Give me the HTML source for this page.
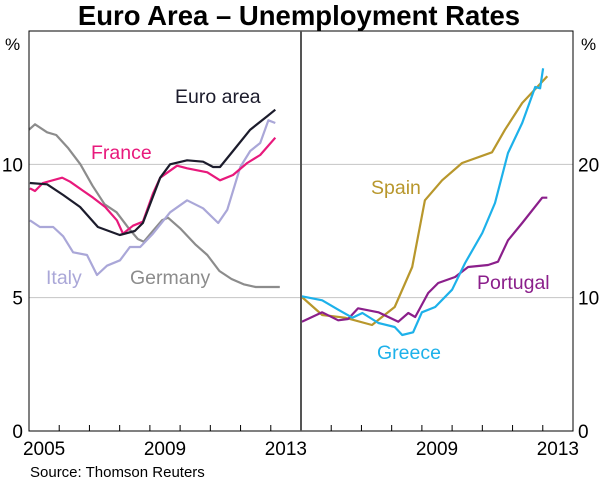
<!DOCTYPE html>
<html><head><meta charset="utf-8"><style>
body{margin:0;background:#fff;}
svg{display:block;font-family:"Liberation Sans",Arial,sans-serif;}
</style></head><body>
<svg id="c" width="600" height="481" viewBox="0 0 600 481">
<text x="299" y="25" text-anchor="middle" font-size="27.5" font-weight="bold" fill="#000">Euro Area – Unemployment Rates</text>
<g id="grid"></g>
<g id="lines"></g>
<g id="frame"></g>
<g id="labels"></g>
<text x="30" y="477" font-size="15" fill="#000">Source: Thomson Reuters</text>
</svg>
<script>
const leftTicks=[0,5,10];
const rightTicks=[0,10,20];
const yearLabels=[2005,2009,2013];
const germany=[[2005.0,11.3],[2005.2,11.5],[2005.6,11.2],[2005.9,11.1],[2006.3,10.6],[2006.7,10.0],[2007.1,9.2],[2007.5,8.5],[2007.9,8.2],[2008.3,7.6],[2008.6,7.2],[2008.8,7.1],[2009.1,7.5],[2009.4,7.9],[2009.6,8.0],[2010.0,7.6],[2010.5,7.0],[2010.9,6.6],[2011.3,6.0],[2011.7,5.7],[2012.1,5.5],[2012.5,5.4],[2013.0,5.4],[2013.3,5.4]];
const euroArea=[[2005.03,9.3],[2005.6,9.25],[2006.13,8.85],[2006.69,8.4],[2007.28,7.65],[2008.0,7.35],[2008.5,7.5],[2008.77,7.8],[2009.34,9.5],[2009.67,10.0],[2010.23,10.15],[2010.76,10.1],[2011.09,9.9],[2011.32,9.9],[2011.75,10.5],[2012.32,11.3],[2012.88,11.8],[2013.15,12.05]];
const france=[[2005.03,9.1],[2005.2,9.0],[2005.46,9.3],[2006.1,9.5],[2006.36,9.35],[2006.8,9.0],[2007.12,8.75],[2007.52,8.4],[2007.91,7.9],[2008.11,7.4],[2008.44,7.7],[2008.77,7.85],[2009.1,8.9],[2009.34,9.5],[2009.9,9.95],[2010.23,9.85],[2010.9,9.7],[2011.32,9.4],[2011.75,9.6],[2012.22,10.05],[2012.65,10.35],[2013.15,11.0]];
const italy=[[2005.03,7.9],[2005.36,7.65],[2005.8,7.65],[2006.13,7.3],[2006.46,6.7],[2006.92,6.6],[2007.25,5.85],[2007.58,6.2],[2008.01,6.4],[2008.34,6.9],[2008.68,6.9],[2009.1,7.4],[2009.67,8.2],[2010.23,8.65],[2010.76,8.35],[2011.26,7.8],[2011.56,8.3],[2011.99,9.9],[2012.32,10.5],[2012.65,10.8],[2012.92,11.65],[2013.15,11.55]];
const spain=[[2005.03,10.05],[2005.7,8.7],[2006.46,8.5],[2007.35,7.95],[2007.68,8.55],[2008.1,9.3],[2008.68,12.3],[2009.1,17.3],[2009.67,18.8],[2010.33,20.1],[2011.32,20.9],[2011.75,22.6],[2012.32,24.6],[2013.15,26.6]];
const greece=[[2005.03,10.1],[2005.7,9.8],[2006.23,9.1],[2006.7,8.5],[2007.03,8.85],[2007.56,8.1],[2008.1,7.8],[2008.35,7.2],[2008.71,7.4],[2009.0,8.9],[2009.44,9.3],[2010.0,10.6],[2010.43,12.6],[2011.0,14.85],[2011.42,17.1],[2011.85,20.85],[2012.32,23.1],[2012.75,25.8],[2012.91,25.7],[2013.01,27.2]];
const portugal=[[2005.03,8.2],[2005.7,8.9],[2006.23,8.3],[2006.56,8.4],[2006.89,9.2],[2007.56,8.9],[2008.22,8.2],[2008.55,8.85],[2008.78,8.55],[2009.21,10.35],[2009.54,11.1],[2010.1,11.55],[2010.53,12.3],[2011.19,12.45],[2011.52,12.7],[2011.85,14.3],[2012.32,15.6],[2012.98,17.5],[2013.15,17.5]];
const NS='http://www.w3.org/2000/svg';
const L0=29,DIV=301,R1=573,TOP=31,BOT=431;
const yw=(DIV-L0)/9;
function xL(y){return L0+(y-2005)*yw;}
function xR(y){return DIV+(y-2005)*yw;}
function yL(v){return BOT-(v/15)*(BOT-TOP);}
function yR(v){return BOT-(v/30)*(BOT-TOP);}
function mk(tag,attrs,parent){const e=document.createElementNS(NS,tag);for(const k in attrs)e.setAttribute(k,attrs[k]);parent.appendChild(e);return e;}
const g=document.getElementById('grid'),ln=document.getElementById('lines'),fr=document.getElementById('frame'),lb=document.getElementById('labels');
leftTicks.forEach(v=>{
  if(v>0){const l=mk('line',{x1:L0,x2:R1,y1:yL(v),y2:yL(v),stroke:'#c4c4c4','stroke-width':1},g);
  
  }
  const t=mk('text',{x:23,y:yL(v)+7,'text-anchor':'end','font-size':19,fill:'#000'},lb);t.textContent=v;
  
  
});
rightTicks.forEach(v=>{
  const t=mk('text',{x:578,y:yR(v)+7,'font-size':19,fill:'#000'},lb);t.textContent=v;
  
  
});
[['%',5],['%',581]].forEach(p=>{const t=mk('text',{x:p[1],y:50,'font-size':17,fill:'#000'},lb);t.textContent=p[0];
  
  });
yearLabels.forEach(y=>{
  [[xL,'left'],[xR,'right']].forEach(([f,side])=>{
    if(side==='right'&&y===2005)return;
    const t=mk('text',{x:f(y+0.5),y:455,'text-anchor':'middle','font-size':19,fill:'#000'},lb);t.textContent=y;
    
    
  });
});
for(let i=1;i<9;i++){[xL,xR].forEach(f=>{const l=mk('line',{x1:f(2005+i),x2:f(2005+i),y1:BOT,y2:BOT-6,stroke:'#000','stroke-width':1},fr);
  
  });}
const box=mk('rect',{x:L0,y:TOP,width:R1-L0,height:BOT-TOP,fill:'none',stroke:'#000','stroke-width':1},fr);


const dv=mk('line',{x1:DIV,x2:DIV,y1:TOP,y2:BOT,stroke:'#555','stroke-width':2},fr);


function series(data,fx,fy,color,name){
  const p=mk('polyline',{points:data.map(d=>fx(d[0]).toFixed(1)+','+fy(d[1]).toFixed(1)).join(' '),fill:'none',stroke:color,'stroke-width':2.2,'stroke-linejoin':'round'},ln);
  
  
}
series(germany,xL,yL,'#8c8c8c','germany-line');
series(italy,xL,yL,'#aaa7d8','italy-line');
series(france,xL,yL,'#e8197c','france-line');
series(euroArea,xL,yL,'#1c1c2c','euro-area-line');
series(spain,xR,yR,'#b8972c','spain-line');
series(portugal,xR,yR,'#8b1f8b','portugal-line');
series(greece,xR,yR,'#1db1ea','greece-line');
[['Euro area',175,103,'#1c1c2c','euro-area-label'],['France',91,159,'#e8197c','france-label'],['Italy',46,284,'#aaa7d8','italy-label'],['Germany',130,284,'#8c8c8c','germany-label'],['Spain',371,194,'#b8972c','spain-label'],['Portugal',477,289,'#8b1f8b','portugal-label'],['Greece',377,359,'#1db1ea','greece-label']].forEach(a=>{
  const t=mk('text',{x:a[1],y:a[2],'font-size':19.5,fill:a[3]},lb);t.textContent=a[0];
  
  
});
</script>
</body></html>
